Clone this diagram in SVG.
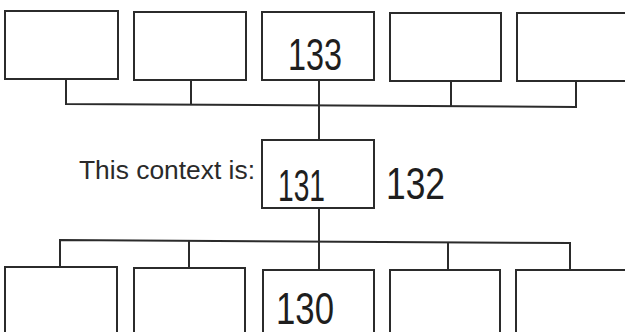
<svg xmlns="http://www.w3.org/2000/svg" width="625" height="332" viewBox="0 0 625 332">
  <style>
    .box { fill: #ffffff; stroke: #2b2b2b; stroke-width: 2; }
    .conn { fill: none; stroke: #2b2b2b; stroke-width: 2; }
    .label { font-family: "Liberation Sans", Arial, sans-serif; font-size: 26px; fill: #2a2a2a; }
    .hand { font-family: "Liberation Sans", Arial, sans-serif; font-size: 44px; fill: #1e1e1e; }
  </style>
  <rect x="0" y="0" width="625" height="332" fill="#ffffff"/>
  <g id="connectors">
    <path class="conn" d="M66,80 V104 L576,107 V81"/>
    <path class="conn" d="M191,80 V105"/>
    <path class="conn" d="M319,80 V140"/>
    <path class="conn" d="M451,81 V106"/>
    <path class="conn" d="M319,208 V270"/>
    <path class="conn" d="M60,267 V240 L570,243 V270"/>
    <path class="conn" d="M189,268 V241"/>
    <path class="conn" d="M448,270 V243"/>
  </g>
  <g id="top-1"><rect class="box" x="5" y="11" width="113" height="68"/></g>
  <g id="top-2"><rect class="box" x="134" y="12" width="112" height="68"/></g>
  <g id="top-3"><rect class="box" x="262" y="12" width="112" height="68"/>
    <text class="hand" x="288" y="70" textLength="54" lengthAdjust="spacingAndGlyphs">133</text></g>
  <g id="top-4"><rect class="box" x="390" y="13" width="111" height="68"/></g>
  <g id="top-5"><rect class="box" x="517" y="13" width="115" height="68"/></g>
  <g id="context"><rect class="box" x="262" y="140" width="112" height="68"/>
    <text class="label" x="79" y="179" textLength="176" lengthAdjust="spacingAndGlyphs">This context is:</text>
    <text class="hand" x="278" y="201" textLength="47" lengthAdjust="spacingAndGlyphs">131</text>
    <text class="hand" x="386" y="199" textLength="59" lengthAdjust="spacingAndGlyphs">132</text></g>
  <g id="bottom-1"><rect class="box" x="5" y="267" width="112" height="80"/></g>
  <g id="bottom-2"><rect class="box" x="134" y="268" width="111" height="80"/></g>
  <g id="bottom-3"><rect class="box" x="263" y="270" width="111" height="80"/>
    <text class="hand" x="276" y="324" font-size="40" textLength="58" lengthAdjust="spacingAndGlyphs">130</text></g>
  <g id="bottom-4"><rect class="box" x="390" y="270" width="110" height="80"/></g>
  <g id="bottom-5"><rect class="box" x="516" y="270" width="116" height="80"/></g>
</svg>
